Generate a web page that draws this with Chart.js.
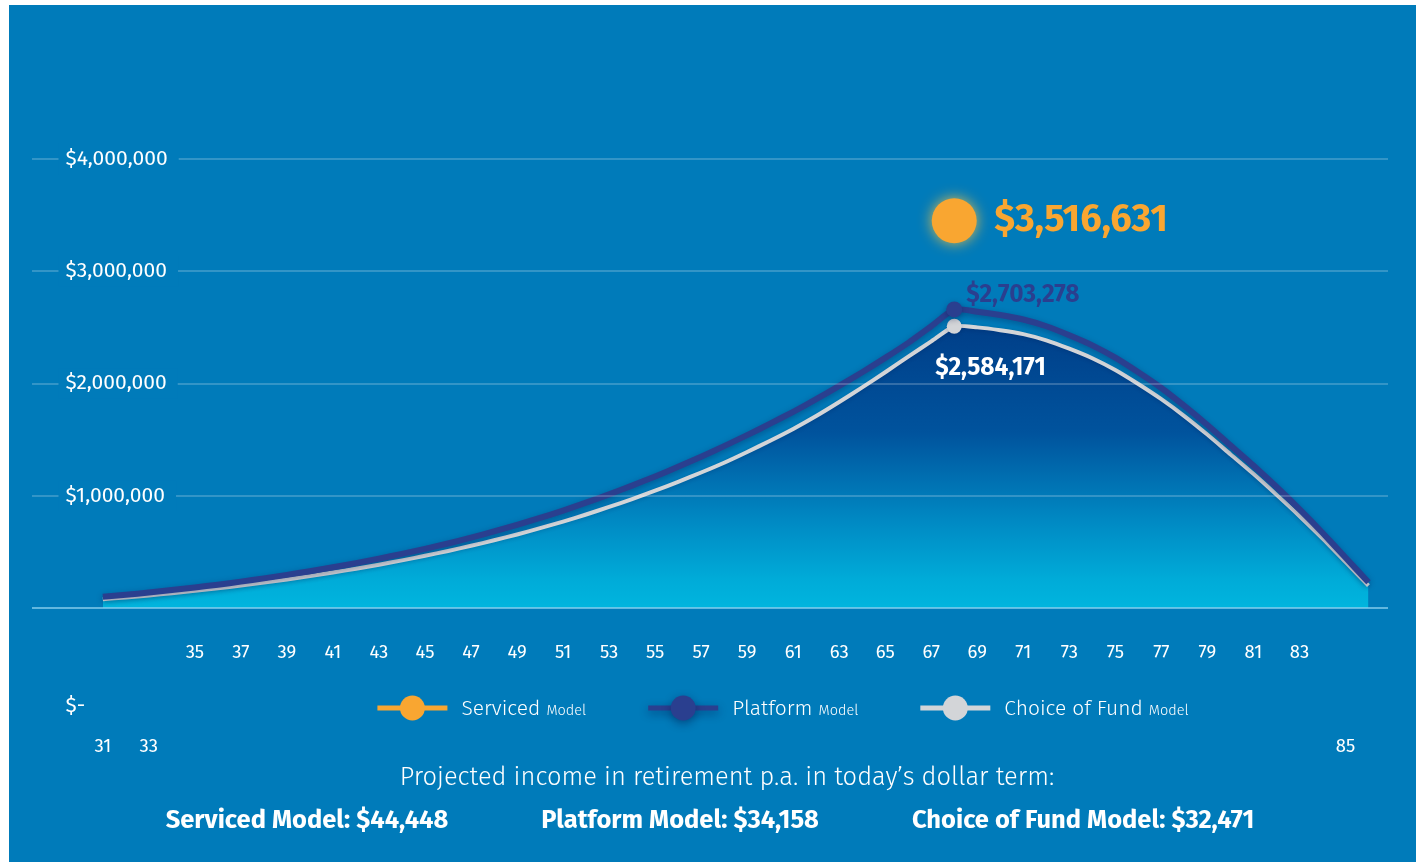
<!DOCTYPE html>
<html lang="en">
<head>
<meta charset="UTF-8">
<title>Projected retirement balance</title>
<script src="https://cdn.jsdelivr.net/npm/chart.js"></script>
<style>
  html, body { margin: 0; padding: 0; background: #fff; }
  body { width: 1416px; height: 862px; overflow: hidden; font-family: 'Fira Sans', 'Open Sans', sans-serif; }
  .panel { position: absolute; left: 9px; top: 5px; width: 1407px; height: 857px; background: #007bba; }
  #chart { position: absolute; left: 0; top: 0; }
  .note { position: absolute; left: 718px; top: 757px; transform: translateX(-50%); white-space: nowrap;
          color: #fff; font-weight: 300; font-size: 25.5px; line-height: 30px; }
  .totals { position: absolute; left: 0; width: 1402px; top: 800px; display: flex; justify-content: center; gap: 93px;
            color: #fff; font-weight: 700; font-size: 25.5px; line-height: 30px; white-space: nowrap; }
</style>
</head>
<body>
<div class="panel">
  <canvas id="chart" width="1407" height="853"></canvas>
  <div class="note">Projected income in retirement p.a. in today’s dollar term:</div>
  <div class="totals" id="totals"></div>
</div>

<script>
// ages on the x axis, one point per year
const ages = [31, 32, 33, 34, 35, 36, 37, 38, 39, 40, 41, 42, 43, 44, 45, 46, 47, 48, 49, 50,
              51, 52, 53, 54, 55, 56, 57, 58, 59, 60, 61, 62, 63, 64, 65, 66, 67, 68, 69, 70,
              71, 72, 73, 74, 75, 76, 77, 78, 79, 80, 81, 82, 83, 84, 85, 86];
const tickAges = [31, 33, 35, 37, 39, 41, 43, 45, 47, 49, 51, 53, 55, 57, 59, 61, 63, 65, 67, 69,
                  71, 73, 75, 77, 79, 81, 83, 85];
const droppedAges = [31, 33, 85]; // these labels sit on the lower row
const zeroLabel = '$-';

const seriesNames = ['Serviced', 'Platform', 'Choice of Fund'];
const seriesColors = ['#f9a631', '#2a3f8f', '#d3d5d8'];

const platformValues = [100000, 118000, 138000, 160000, 183000, 208000, 235000, 264000, 295000, 328000,
  363000, 400000, 440000, 482000, 527000, 575000, 627000, 682000, 740000, 802000,
  868000, 938000, 1012000, 1090000, 1172000, 1258000, 1348000, 1442000, 1540000, 1642000,
  1748000, 1860000, 1978000, 2100000, 2228000, 2362000, 2510000, 2660000, 2640000, 2610000,
  2570000, 2510000, 2430000, 2340000, 2230000, 2100000, 1960000, 1800000, 1630000, 1450000,
  1270000, 1080000, 880000, 670000, 450000, 230000];
const choiceValues = [78000, 94000, 112000, 132000, 153000, 176000, 200000, 226000, 254000, 284000,
  316000, 350000, 386000, 424000, 465000, 508000, 554000, 603000, 655000, 711000,
  770000, 833000, 900000, 970000, 1045000, 1124000, 1207000, 1294000, 1390000, 1490000,
  1595000, 1710000, 1835000, 1965000, 2100000, 2240000, 2375000, 2510000, 2500000, 2475000,
  2440000, 2385000, 2310000, 2225000, 2120000, 1995000, 1860000, 1710000, 1545000, 1370000,
  1195000, 1010000, 820000, 620000, 410000, 200000];
const servicedPeakAge = 68;
const servicedPeakValue = 3450000;
const peakAge = 68;

const peakLabels = ['$3,516,631', '$2,703,278', '$2,584,171'];
const incomeLabels = ['Serviced Model: $44,448', 'Platform Model: $34,158', 'Choice of Fund Model: $32,471'];

const FONT = "'Fira Sans', 'Open Sans', sans-serif";
const BG = '#007bba';

document.getElementById('totals').innerHTML = incomeLabels.map(t => '<span>' + t + '</span>').join('');

const peakIndex = ages.indexOf(peakAge);
const toPoints = vals => vals.map((v, i) => ({ x: ages[i], y: v }));

function fillGradient(c) {
  const { ctx, chartArea, scales } = c.chart;
  if (!chartArea) return 'rgba(0,0,0,0)';
  const top = scales.y.getPixelForValue(2600000);
  const bottom = scales.y.getPixelForValue(0);
  const g = ctx.createLinearGradient(0, top, 0, bottom);
  g.addColorStop(0, '#003d87');
  g.addColorStop(0.4, '#00539d');
  g.addColorStop(0.7, '#0089c3');
  g.addColorStop(0.9, '#00abd8');
  g.addColorStop(1, '#00b5de');
  return g;
}

// glow / drop shadows on the series
const shadows = [
  { color: 'rgba(255, 196, 60, 0.85)', blur: 14, dy: 0 },
  { color: 'rgba(0, 20, 70, 0.35)', blur: 6, dy: 2 },
  { color: 'rgba(0, 20, 70, 0.2)', blur: 4, dy: 1 }
];
const shadowPlugin = {
  id: 'shadow',
  beforeDatasetDraw(chart, args) {
    const s = shadows[args.index];
    const ctx = chart.ctx;
    ctx.save();
    ctx.shadowColor = s.color;
    ctx.shadowBlur = s.blur;
    ctx.shadowOffsetY = s.dy;
  },
  afterDatasetDraw(chart) { chart.ctx.restore(); }
};

// value tags next to the peak markers
const tagStyles = [
  { dx: 40, dy: 0, size: 38, color: '#f9a631' },
  { dx: 12, dy: -14, size: 24.5, color: '#2a3f8f' },
  { dx: -19, dy: 42, size: 24.5, color: '#ffffff' }
];
const peakTags = {
  id: 'peakTags',
  afterDraw(chart) {
    const ctx = chart.ctx;
    ctx.save();
    chart.data.datasets.forEach((ds, i) => {
      const meta = chart.getDatasetMeta(i);
      const el = i === 0 ? meta.data[0] : meta.data[peakIndex];
      const st = tagStyles[i];
      ctx.font = '700 ' + st.size + 'px ' + FONT;
      ctx.fillStyle = st.color;
      ctx.textAlign = 'left';
      ctx.textBaseline = 'middle';
      ctx.fillText(peakLabels[i], el.x + st.dx, el.y + st.dy);
    });
    ctx.restore();
  }
};

// legend: line + dot symbol, series name and a small "Model"
const legendBox = { centerX: 774, y: 703, symbol: 70, gap: 62 };
const customLegend = {
  id: 'customLegend',
  afterDraw(chart) {
    const ctx = chart.ctx;
    ctx.save();
    const items = chart.data.datasets.map((ds, i) => {
      ctx.font = '300 21px ' + FONT;
      const nameW = ctx.measureText(seriesNames[i]).width;
      ctx.font = '300 14.5px ' + FONT;
      const modelW = ctx.measureText('Model').width;
      return { name: seriesNames[i], color: ds.borderColor, nameW, modelW, w: legendBox.symbol + 14 + nameW + 6 + modelW };
    });
    const total = items.reduce((a, it) => a + it.w, 0) + legendBox.gap * (items.length - 1);
    let x = legendBox.centerX - total / 2;
    const y = legendBox.y;
    items.forEach((it, i) => {
      ctx.save();
      if (i === 1) { ctx.shadowColor = 'rgba(0,20,70,0.45)'; ctx.shadowBlur = 10; ctx.shadowOffsetY = 3; }
      ctx.fillStyle = it.color;
      ctx.fillRect(x, y - 2.5, legendBox.symbol, 5);
      ctx.beginPath();
      ctx.arc(x + legendBox.symbol / 2, y, 12.5, 0, Math.PI * 2);
      ctx.fill();
      ctx.restore();
      ctx.fillStyle = '#ffffff';
      ctx.textAlign = 'left';
      ctx.textBaseline = 'alphabetic';
      ctx.font = '300 21px ' + FONT;
      const tx = x + legendBox.symbol + 14;
      ctx.fillText(it.name, tx, y + 7);
      ctx.font = '300 14.5px ' + FONT;
      ctx.fillText('Model', tx + it.nameW + 6, y + 7);
      x += it.w + legendBox.gap;
    });
    ctx.restore();
  }
};

const peakRadius = r => c => (c.dataIndex === peakIndex ? r : 0);

new Chart(document.getElementById('chart'), {
  type: 'line',
  data: {
    datasets: [
      {
        label: seriesNames[0] + ' Model',
        data: [{ x: servicedPeakAge, y: servicedPeakValue }],
        borderColor: seriesColors[0],
        backgroundColor: seriesColors[0],
        pointRadius: 22.5,
        pointBorderWidth: 0,
        showLine: false
      },
      {
        label: seriesNames[1] + ' Model',
        data: toPoints(platformValues),
        borderColor: seriesColors[1],
        backgroundColor: seriesColors[1],
        borderWidth: 6,
        tension: 0.2,
        pointRadius: peakRadius(8),
        pointBorderWidth: 0,
        fill: false
      },
      {
        label: seriesNames[2] + ' Model',
        data: toPoints(choiceValues),
        borderColor: seriesColors[2],
        pointBackgroundColor: seriesColors[2],
        backgroundColor: fillGradient,
        borderWidth: 4,
        tension: 0.2,
        pointRadius: peakRadius(7.5),
        pointBorderWidth: 0,
        fill: 'origin'
      }
    ]
  },
  options: {
    responsive: false,
    animation: false,
    events: [],
    layout: { padding: { left: 22, right: 28, top: 154, bottom: 80 } },
    plugins: { legend: { display: false }, tooltip: { enabled: false } },
    scales: {
      x: {
        type: 'linear',
        min: 27.9,
        max: 86.85,
        afterBuildTicks: s => { s.ticks = tickAges.map(v => ({ value: v })); },
        afterFit: s => { s.height = 170; s.paddingLeft = 0; s.paddingRight = 0; },
        grid: { display: false, drawTicks: false },
        border: { display: false },
        ticks: {
          autoSkip: false,
          maxRotation: 0,
          padding: 33,
          color: '#ffffff',
          font: { family: FONT, size: 18.5, lineHeight: '23.5px' },
          callback: v => droppedAges.includes(v) ? ['', '', '', '', String(v)] : String(v)
        }
      },
      y: {
        min: 0,
        max: 4000000,
        afterFit: s => { s.width = 0; s.paddingTop = 0; s.paddingBottom = 0; },
        grid: {
          z: 1,
          drawTicks: false,
          color: c => (c.tick.value === 0 ? 'rgba(140, 210, 240, 0.7)' : 'rgba(255, 255, 255, 0.2)'),
          lineWidth: 2
        },
        border: { display: false },
        ticks: {
          z: 2,
          autoSkip: false,
          stepSize: 1000000,
          mirror: true,
          padding: 34,
          color: '#ffffff',
          font: { family: FONT, size: 21, lineHeight: '24.5px' },
          showLabelBackdrop: c => c.tick.value !== 0,
          backdropColor: BG,
          backdropPadding: { left: 7, right: 11, top: 3, bottom: 3 },
          callback: v => v === 0 ? ['', '', '', '', '', '', '', '', zeroLabel] : '$' + v.toLocaleString('en-US')
        }
      }
    }
  },
  plugins: [shadowPlugin, peakTags, customLegend]
});
</script>
</body>
</html>
